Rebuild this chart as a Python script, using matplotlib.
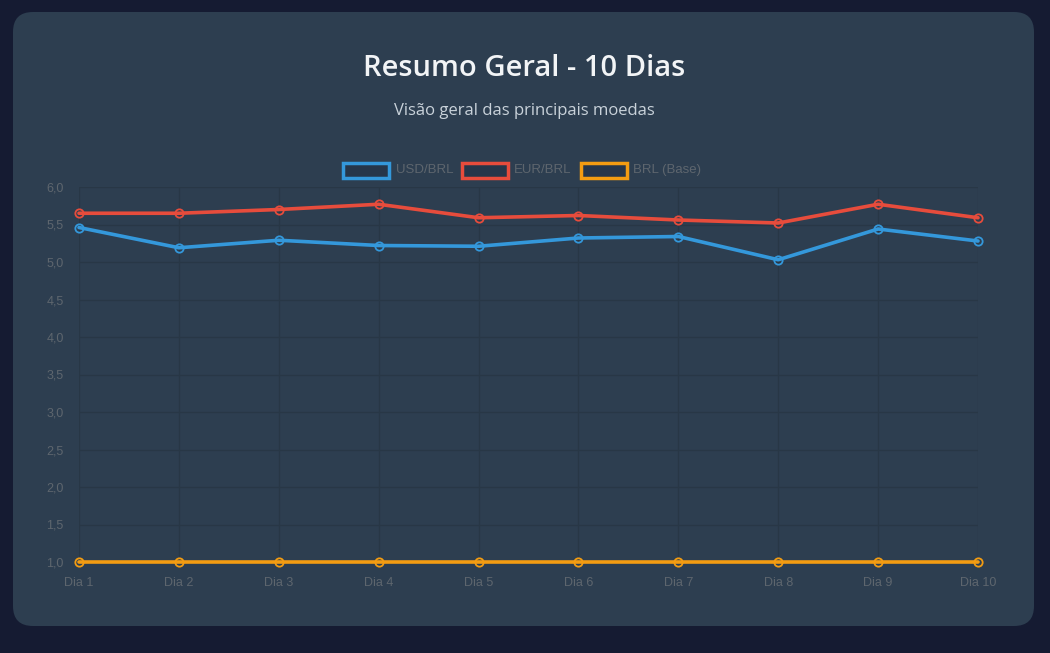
import matplotlib
matplotlib.use("Agg")
import matplotlib.pyplot as plt
from matplotlib.patches import FancyBboxPatch, Rectangle

# Data
days = ["Dia 1", "Dia 2", "Dia 3", "Dia 4", "Dia 5", "Dia 6", "Dia 7", "Dia 8", "Dia 9", "Dia 10"]
usd_brl = [5.46, 5.19, 5.29, 5.22, 5.21, 5.32, 5.34, 5.03, 5.44, 5.28]
eur_brl = [5.65, 5.65, 5.70, 5.77, 5.59, 5.62, 5.56, 5.52, 5.77, 5.59]
brl_base = [1.0, 1.0, 1.0, 1.0, 1.0, 1.0, 1.0, 1.0, 1.0, 1.0]
y_ticks = [1.0, 1.5, 2.0, 2.5, 3.0, 3.5, 4.0, 4.5, 5.0, 5.5, 6.0]

series = [
    ("USD/BRL", usd_brl, "#3498db"),
    ("EUR/BRL", eur_brl, "#e74c3c"),
    ("BRL (Base)", brl_base, "#f39c12"),
]

W, H = 1050, 653
BG = "#151b32"
CARD = "#2d3e50"
GRID = "#283746"
TICK = "#5e666e"

fig = plt.figure(figsize=(W / 100, H / 100), dpi=100, facecolor=BG)

# Card background
card = FancyBboxPatch((13 / W, 1 - 626 / H), (1034 - 13) / W, (626 - 12) / H,
                      boxstyle="round,pad=0,rounding_size=0.019",
                      transform=fig.transFigure, facecolor=CARD, edgecolor="none",
                      mutation_aspect=W / H, zorder=0)
fig.patches.append(card)

# Title and subtitle
fig.text(524 / W, 1 - 68 / H, "Resumo Geral - 10 Dias", ha="center", va="center",
         fontsize=21, fontweight="semibold", color="#f2f4f6", family="Open Sans")
fig.text(524 / W, 1 - 111 / H, "Visão geral das principais moedas", ha="center", va="center",
         fontsize=12, color="#c9d2da", family="Open Sans")

# Plot area
ax = fig.add_axes([79 / W, 1 - 562 / H, (978 - 79) / W, (562 - 187) / H])
ax.set_zorder(2)
ax.set_facecolor("none")
x = list(range(len(days)))
for label, values, color in series:
    ax.plot(x, values, color=color, linewidth=2.6, marker="o", markersize=6,
            markerfacecolor="none", markeredgecolor=color, markeredgewidth=1.3,
            solid_capstyle="round", zorder=3, clip_on=False)

ax.set_xlim(0, len(days) - 1)
ax.set_ylim(1.0, 6.0)
ax.set_xticks(x)
ax.set_xticklabels(days)
ax.set_yticks(y_ticks)
ax.set_yticklabels([f"{t:.1f}".replace(".", ",") for t in y_ticks])
ax.grid(True, color=GRID, linewidth=1)
ax.set_axisbelow(True)
for s in ax.spines.values():
    s.set_visible(False)
ax.tick_params(axis="both", colors=GRID, labelcolor=TICK, labelsize=9, length=0)
ax.tick_params(axis="x", pad=11)
ax.tick_params(axis="y", pad=11)
for lbl in ax.get_xticklabels() + ax.get_yticklabels():
    lbl.set_family("Liberation Sans")

# Legend drawn by hand as chart.js-style boxes
legend_items = [(343, 396), (462, 514), (581, 633)]
for (bx, tx), (label, _, color) in zip(legend_items, series):
    fig.patches.append(Rectangle((bx / W, 1 - 178 / H), 46 / W, 15 / H, transform=fig.transFigure,
                                 facecolor="#26364a", edgecolor=color, linewidth=2.5, zorder=1))
    fig.text(tx / W, 1 - 170 / H, label, ha="left", va="center", fontsize=9.5,
             color=TICK, family="Liberation Sans")

fig.savefig("out.png", dpi=100, facecolor=BG)
